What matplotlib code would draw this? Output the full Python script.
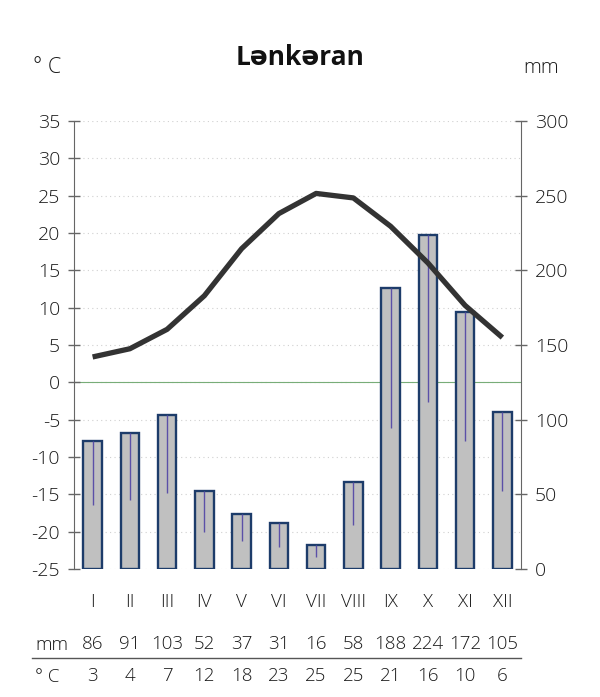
import matplotlib.pyplot as plt
import matplotlib.transforms as mtransforms
import numpy as np

plt.rcParams['font.family'] = ['Open Sans', 'DejaVu Sans']
plt.rcParams['font.weight'] = 'light'
plt.rcParams['axes.unicode_minus'] = False

# data
months = ["I", "II", "III", "IV", "V", "VI", "VII", "VIII", "IX", "X", "XI", "XII"]
precip = [86, 91, 103, 52, 37, 31, 16, 58, 188, 224, 172, 105]
precip_low = [43, 46, 51, 25, 18.5, 14.5, 7.8, 29.5, 94.5, 112, 86, 52.5]
temp = [3.4, 4.5, 7.1, 11.6, 17.9, 22.6, 25.3, 24.7, 20.9, 16.0, 10.3, 6.0]
temp_table = [3, 4, 7, 12, 18, 23, 25, 25, 21, 16, 10, 6]

x = np.arange(1, 13)
txt = "#1a1a1a"

fig = plt.figure(figsize=(6, 6.97), dpi=100)
ax = fig.add_axes([0.1233, 0.1836, 0.745, 0.6428])
ax2 = ax.twinx()

# precipitation bars on the right axis, drawn behind the temperature line
ax.set_zorder(2)
ax.patch.set_visible(False)
ax2.set_zorder(1)

ax2.bar(x, precip, width=0.5, color="#c0c0c0", edgecolor="#1d3c6a",
        linewidth=1.7, zorder=3)
ax2.vlines(x, precip_low, precip, color="#5b50a8", linewidth=1.0, zorder=4)
ax2.set_ylim(0, 300)
ax2.set_yticks(range(0, 301, 50))

ax.plot(x, temp, color="#333333", linewidth=3.8, solid_joinstyle="round",
        solid_capstyle="butt", zorder=5)
ax.set_ylim(-25, 35)
ax.set_yticks(range(-25, 36, 5))
ax.set_xlim(0.5, 12.5)

# dotted grid + zero line
for t in range(-25, 36, 5):
    ax2.axhline((t + 25) * 5, color="#d0d0d0", linewidth=0.8,
                linestyle=(0, (1, 3)), zorder=1)
ax2.axhline(125, color="#78ad78", linewidth=0.8, zorder=2)

for a in (ax, ax2):
    for s in ("top", "bottom"):
        a.spines[s].set_visible(False)
    a.spines["left"].set_color("#666666")
    a.spines["right"].set_color("#666666")
    a.tick_params(axis="y", direction="inout", length=8, width=1,
                  color="#666666", labelsize=14, labelcolor=txt, pad=6)
ax.spines["right"].set_visible(False)
ax2.spines["left"].set_visible(False)

ax.set_xticks(x)
ax.set_xticklabels(months)
ax.tick_params(axis="x", length=0, pad=17, labelsize=13.5, labelcolor=txt)
ax2.tick_params(axis="x", length=0)

fig.text(0.5, 0.918, "Lənkəran", ha="center", va="center",
         fontsize=19, fontweight="bold", color="#111111")
fig.text(0.079, 0.903, "° C", ha="center", va="center", fontsize=15.5, color=txt)
fig.text(0.902, 0.902, "mm", ha="center", va="center", fontsize=14.5, color=txt)

# table below the chart
trans = mtransforms.blended_transform_factory(ax.transData, fig.transFigure)
for xi, p, t in zip(x, precip, temp_table):
    ax.text(xi, 0.076, str(p), transform=trans, ha="center", va="center",
            fontsize=13.5, color=txt)
    ax.text(xi, 0.030, str(t), transform=trans, ha="center", va="center",
            fontsize=13.5, color=txt)
fig.text(0.087, 0.074, "mm", ha="center", va="center", fontsize=13.5, color=txt)
fig.text(0.079, 0.028, "° C", ha="center", va="center", fontsize=13.5, color=txt)
fig.add_artist(plt.Line2D([0.053, 0.8683], [0.056, 0.056], color="#555555",
                          linewidth=1.0, transform=fig.transFigure))

fig.savefig("out.png", dpi=100)
